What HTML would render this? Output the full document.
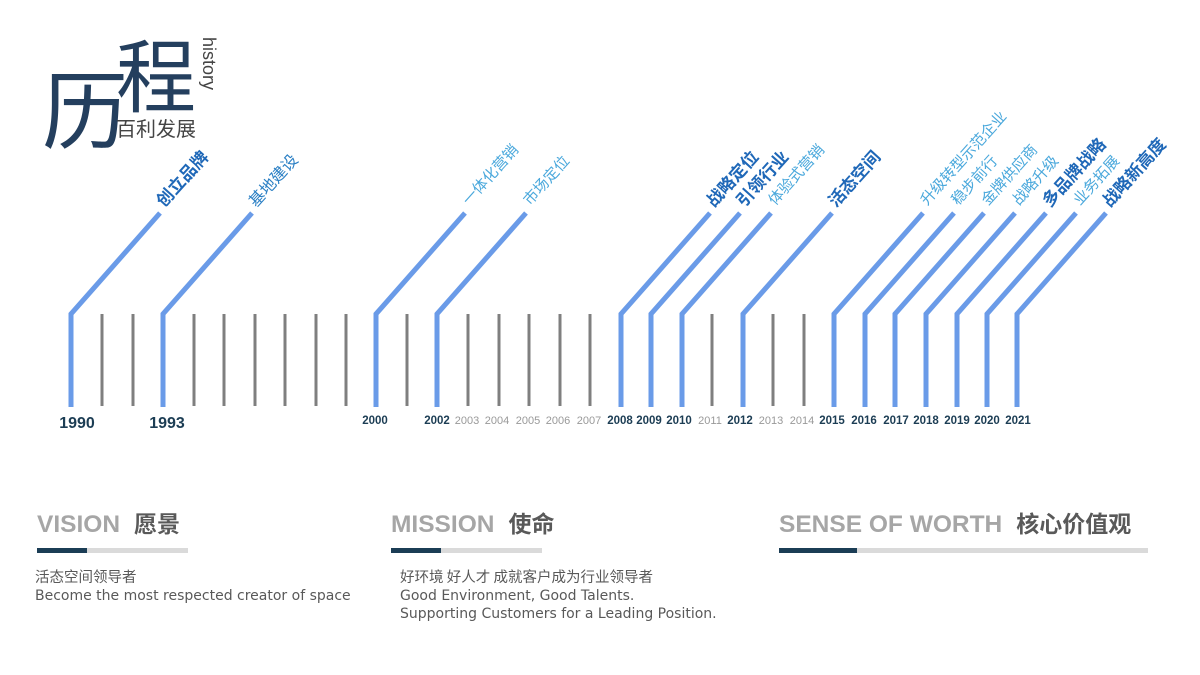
<!DOCTYPE html>
<html><head><meta charset="utf-8"><style>
html,body{margin:0;padding:0;background:#fff;}
body{width:1200px;height:675px;overflow:hidden;position:relative;font-family:"Liberation Sans","Noto Sans CJK SC",sans-serif;}
svg{position:absolute;left:0;top:0;}
</style></head><body>
<svg width="1200" height="675" viewBox="0 0 1200 675" xmlns="http://www.w3.org/2000/svg" font-family="Liberation Sans, Noto Sans CJK SC, sans-serif">
<text x="42" y="142" font-size="86" fill="#243f5e" font-family="Noto Sans CJK SC, sans-serif">历</text>
<text x="116" y="106" font-size="80" fill="#243f5e" font-family="Noto Sans CJK SC, sans-serif">程</text>
<text x="116" y="136" font-size="20" fill="#444" font-family="Noto Sans CJK SC, sans-serif">百利发展</text>
<text transform="translate(203,37) rotate(90)" font-size="18" fill="#444">history</text>

<g stroke="#7f7f7f" stroke-width="3">
<line x1="102" y1="314" x2="102" y2="406"/><line x1="133" y1="314" x2="133" y2="406"/>
<line x1="194" y1="314" x2="194" y2="406"/><line x1="224" y1="314" x2="224" y2="406"/>
<line x1="255" y1="314" x2="255" y2="406"/><line x1="285" y1="314" x2="285" y2="406"/>
<line x1="316" y1="314" x2="316" y2="406"/><line x1="346" y1="314" x2="346" y2="406"/>
<line x1="407" y1="314" x2="407" y2="406"/><line x1="468" y1="314" x2="468" y2="406"/>
<line x1="499" y1="314" x2="499" y2="406"/><line x1="529" y1="314" x2="529" y2="406"/>
<line x1="560" y1="314" x2="560" y2="406"/><line x1="590" y1="314" x2="590" y2="406"/>
<line x1="712" y1="314" x2="712" y2="406"/><line x1="773" y1="314" x2="773" y2="406"/>
<line x1="804" y1="314" x2="804" y2="406"/>
</g>
<g stroke="#6a9be8" stroke-width="5" fill="none">
<path d="M71 407V314L160 213"/><path d="M163 407V314L252 213"/>
<path d="M376 407V314L465 213"/><path d="M437 407V314L526 213"/>
<path d="M621 407V314L710 213"/><path d="M651 407V314L740 213"/>
<path d="M682 407V314L771 213"/><path d="M743 407V314L832 213"/>
<path d="M834 407V314L923 213"/><path d="M865 407V314L954 213"/>
<path d="M895 407V314L984 213"/><path d="M926 407V314L1015 213"/>
<path d="M957 407V314L1046 213"/><path d="M987 407V314L1076 213"/>
<path d="M1017 407V314L1106 213"/>
</g>
<g font-family="Noto Sans CJK SC, sans-serif">
<text transform="translate(164,208) rotate(-48)" font-size="17" font-weight="bold" fill="#1f68b8">创立品牌</text>
<text transform="translate(256,208) rotate(-48)" font-size="16" fill="#2a7fc4">基地建设</text>
<text transform="translate(469,206) rotate(-48)" font-size="15" fill="#4aa8dc">一体化营销</text>
<text transform="translate(530,206) rotate(-48)" font-size="15" fill="#4aa8dc">市场定位</text>
<text transform="translate(714,208) rotate(-48)" font-size="17" font-weight="bold" fill="#1f68b8">战略定位</text>
<text transform="translate(744,208) rotate(-48)" font-size="17" font-weight="bold" fill="#1f68b8">引领行业</text>
<text transform="translate(775,206) rotate(-48)" font-size="15" fill="#4aa8dc">体验式营销</text>
<text transform="translate(836,208) rotate(-48)" font-size="17" font-weight="bold" fill="#1f68b8">活态空间</text>
<text transform="translate(927,206) rotate(-48)" font-size="15" fill="#4aa8dc">升级转型示范企业</text>
<text transform="translate(958,206) rotate(-48)" font-size="15" fill="#4aa8dc">稳步前行</text>
<text transform="translate(988,206) rotate(-48)" font-size="15" fill="#4aa8dc">金牌供应商</text>
<text transform="translate(1019,206) rotate(-48)" font-size="15" fill="#4aa8dc">战略升级</text>
<text transform="translate(1050,208) rotate(-48)" font-size="17" font-weight="bold" fill="#1f68b8">多品牌战略</text>
<text transform="translate(1080,206) rotate(-48)" font-size="15" fill="#4aa8dc">业务拓展</text>
<text transform="translate(1110,208) rotate(-48)" font-size="17" font-weight="bold" fill="#1f68b8">战略新高度</text>
</g>
<g text-anchor="middle" font-weight="bold" fill="#1c3d54">
<text x="77" y="428" font-size="16">1990</text>
<text x="167" y="428" font-size="16">1993</text>
<g font-size="11.5">
<text x="375" y="424">2000</text><text x="437" y="424">2002</text>
<text x="620" y="424">2008</text><text x="649" y="424">2009</text><text x="679" y="424">2010</text>
<text x="740" y="424">2012</text><text x="832" y="424">2015</text><text x="864" y="424">2016</text>
<text x="896" y="424">2017</text><text x="926" y="424">2018</text><text x="957" y="424">2019</text>
<text x="987" y="424">2020</text><text x="1018" y="424">2021</text>
</g>
<g font-size="11" font-weight="normal" fill="#999">
<text x="467" y="424">2003</text><text x="497" y="424">2004</text><text x="528" y="424">2005</text>
<text x="558" y="424">2006</text><text x="589" y="424">2007</text><text x="710" y="424">2011</text>
<text x="771" y="424">2013</text><text x="802" y="424">2014</text>
</g>
</g>

<g font-weight="bold" font-size="24.5">
<text x="37" y="532" fill="#a6a6a6">VISION<tspan fill="#595959" font-family="Noto Sans CJK SC, sans-serif" font-size="23" dx="14">愿景</tspan></text>
<text x="391" y="532" fill="#a6a6a6">MISSION<tspan fill="#595959" font-family="Noto Sans CJK SC, sans-serif" font-size="23" dx="14">使命</tspan></text>
<text x="779" y="532" fill="#a6a6a6">SENSE OF WORTH<tspan fill="#595959" font-family="Noto Sans CJK SC, sans-serif" font-size="23" dx="14">核心价值观</tspan></text>
</g>
<rect x="37" y="548" width="151" height="5" fill="#dadada"/><rect x="37" y="548" width="50" height="5" fill="#1b3d55"/>
<rect x="391" y="548" width="151" height="5" fill="#dadada"/><rect x="391" y="548" width="50" height="5" fill="#1b3d55"/>
<rect x="779" y="548" width="369" height="5" fill="#dadada"/><rect x="779" y="548" width="78" height="5" fill="#1b3d55"/>
<g fill="#595959">
<text x="35" y="582" font-family="Noto Sans CJK SC, sans-serif" font-size="14.5">活态空间领导者</text>
<text x="35" y="600" font-family="DejaVu Sans, sans-serif" font-size="14">Become the most respected creator of space</text>
<text x="400" y="582" font-family="Noto Sans CJK SC, sans-serif" font-size="14.5">好环境 好人才 成就客户成为行业领导者</text>
<text x="400" y="600" font-family="DejaVu Sans, sans-serif" font-size="14">Good Environment, Good Talents.</text>
<text x="400" y="618" font-family="DejaVu Sans, sans-serif" font-size="14">Supporting Customers for a Leading Position.</text>
</g>
</svg>
</body></html>
